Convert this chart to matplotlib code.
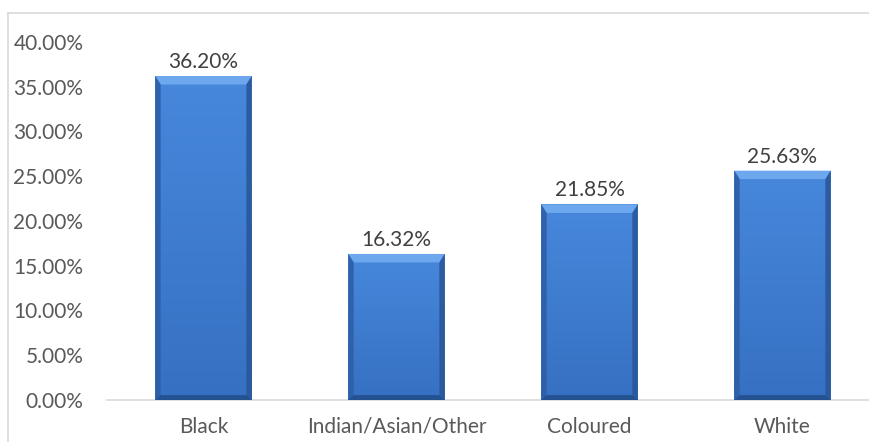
import numpy as np
import matplotlib
matplotlib.use('Agg')
import matplotlib.pyplot as plt
from matplotlib.patches import Polygon
from matplotlib.lines import Line2D
from matplotlib.ticker import FuncFormatter

categories = ['Black', 'Indian/Asian/Other', 'Coloured', 'White']
shares = [36.20, 16.32, 21.85, 25.63]
y_ticks = [0, 5, 10, 15, 20, 25, 30, 35, 40]

plt.rcParams['font.family'] = ['Lato', 'DejaVu Sans']

fig = plt.figure(figsize=(8.7, 4.42), dpi=100)
# chart-area frame: only the top and left edges fall inside the image
top_y = 1 - 12.5 / 442
left_x = 8.5 / 870
fig.add_artist(Line2D([left_x, 1.0], [top_y, top_y], transform=fig.transFigure,
                      color='#d9d9d9', linewidth=1.2))
fig.add_artist(Line2D([left_x, left_x], [0.0, top_y], transform=fig.transFigure,
                      color='#d9d9d9', linewidth=1.2))

ax = fig.add_axes([107 / 870, 42 / 442, 772 / 870, 358 / 442])

x = np.arange(len(categories))
width = 0.5
bars = ax.bar(x, shares, width=width, color='#3d7ccf', zorder=2)

# vertical blue gradient plus bevelled edges on each bar
grad = np.linspace(0, 1, 256).reshape(-1, 1)
cmap = matplotlib.colors.LinearSegmentedColormap.from_list('bar', ['#3670c2', '#4788dc'])
dx = 0.028   # side bevel in data units
dyt = 0.95   # top bevel
dyb = 0.55   # bottom bevel
for b in bars:
    x0, w, h = b.get_x(), b.get_width(), b.get_height()
    im = ax.imshow(grad, extent=(x0, x0 + w, 0, h), origin='lower', cmap=cmap,
                   aspect='auto', zorder=3)
    im.set_clip_path(b)
    ax.add_patch(Polygon([(x0, h), (x0 + w, h), (x0 + w - dx, h - dyt), (x0 + dx, h - dyt)],
                         closed=True, facecolor='#72abf0', edgecolor='none', alpha=0.9, zorder=4))
    ax.add_patch(Polygon([(x0, 0), (x0, h), (x0 + dx, h - dyt), (x0 + dx, dyb)],
                         closed=True, facecolor='#2d5fa6', edgecolor='none', alpha=0.9, zorder=4))
    ax.add_patch(Polygon([(x0 + w, 0), (x0 + w, h), (x0 + w - dx, h - dyt), (x0 + w - dx, dyb)],
                         closed=True, facecolor='#2a5799', edgecolor='none', alpha=0.9, zorder=4))
    ax.add_patch(Polygon([(x0, 0), (x0 + w, 0), (x0 + w - dx, dyb), (x0 + dx, dyb)],
                         closed=True, facecolor='#234f8c', edgecolor='none', alpha=0.9, zorder=4))
    ax.text(x0 + w / 2, h + 0.45, f'{h:.2f}%', ha='center', va='bottom',
            fontsize=15, color='#404040', zorder=5)

ax.set_xlim(-0.5, len(categories) - 0.5)
ax.set_ylim(0, 40)
ax.set_xticks(x)
ax.set_xticklabels(categories)
ax.set_yticks(y_ticks)
ax.yaxis.set_major_formatter(FuncFormatter(lambda v, _: f'{v:.2f}%'))
ax.tick_params(axis='both', length=0, labelsize=15, labelcolor='#595959')
ax.tick_params(axis='y', pad=17)
ax.tick_params(axis='x', pad=12)
for side in ['top', 'right', 'left']:
    ax.spines[side].set_visible(False)
ax.spines['bottom'].set_color('#d9d9d9')
ax.spines['bottom'].set_linewidth(1.2)
ax.spines['bottom'].set_zorder(1)

fig.savefig('out.png', dpi=100)
